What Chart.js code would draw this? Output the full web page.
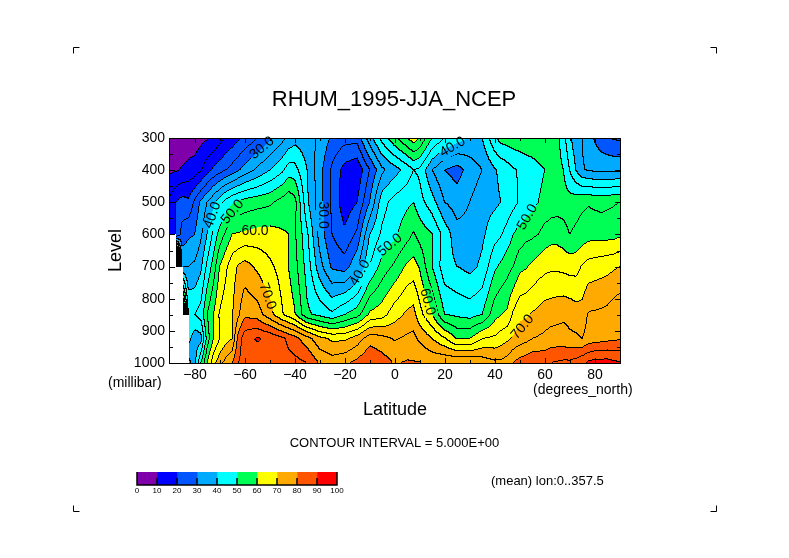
<!DOCTYPE html>
<html>
<head>
<meta charset="utf-8">
<title>RHUM_1995-JJA_NCEP</title>
<script src="https://cdn.jsdelivr.net/npm/chart.js@4/dist/chart.umd.min.js"></script>
<style>
  body { margin: 0; background: #fff; }
  #wrap { position: relative; width: 789px; height: 558px; overflow: hidden; }
  canvas { position: absolute; display: block; }
</style>
</head>
<body>
<div id="wrap">
  <canvas id="myChart" width="789" height="558" style="left:0;top:0"></canvas>
  <canvas id="barChart" width="240" height="40" style="left:120px;top:465px"></canvas>
</div>
<script>
// relative humidity, one list per pressure level
const latitudes = [-90,-87.5,-85,-82.5,-80,-77.5,-75,-72.5,-70,-67.5,-65,-62.5,-60,
  -55,-50,-45,-42.5,-40,-35,-30,-25,-20,-15,-10,-5,
  0,5,7.5,10,15,20,25,30,35,40,
  42.5,45,47.5,50,52.5,55,57.5,60,62.5,65,67.5,70,72.5,75,77.5,80,82.5,85,87.5,90];
const levels = [300,400,500,600,700,850,925,1000];
const latTicks = [-80,-60,-40,-20,0,20,40,60,80];

const rhum300 = [5,6,6.5,7,7.5,8.5,9.5,10.5,13,15.5,17,19,21,
  25,29,33.5,36,38,37,34,29,27,27,38,47,
  54,60,63,60,50,45,42,39.5,40,49,
  52,52.5,53,53.5,54,54,54,53.5,52.5,51.5,47,41,37,35,32,29.5,27,25.5,24.5,24];
const rhum400 = [9,9.5,10.5,11.5,12,14.5,18,21,23,25,27,29.5,32,
  36,40,44,47.5,47,40,32,24,18,16,25,34,
  38,42,45,44,35,30,28,32,35,39.5,
  41,42.7,44.5,45.5,46.6,47.5,49,50,51.5,52,50,45,40,35.5,34.5,34,34,34,34,34];
const rhum500 = [16,20,22,21,26,31,35,39,43,47,49.5,51,52,
  53,54,57,58.5,57,41,32,24,17,20,30,43,
  47,49,50,47,42,35,32.5,35,38,39,
  40,41.5,43.5,45.5,47,48.5,50,51,52,52.5,52.5,52,53,54,54.5,54,53.5,54,54.5,55];
const rhum600 = [16,20,27,29,30,34,40,46,52,56,60,60.5,61,
  62,62,60.5,60,56,46,33,25,21,26,40,46,
  49,53,55.5,53,50,43,37,37,39,43,
  44.5,47,50,52,53.5,54,55,57,58,58,57,55,56,57,58,58,58,58,58,59];
const rhum700 = [null,95,35,35,36,39,46,52,60,64,68,70.5,72,
  69,66,63,60,57,48,37,29,27.5,34,45,52,
  56,61,62,59.5,50,42,40,38.5,41,49,
  51,53,55,58.5,59.5,61,62.5,63.5,64,64,63.5,63,63,65.5,67,67.5,68,68.5,69.2,70];
const rhum850 = [null,null,78,45,45,47,55,60,65.5,68,69.5,74,79,
  77.5,72,65.5,63,60.5,51,48.5,46,50,53,61,63,
  68,71,72,67,60,50,49,48,50,58,
  60,61,66,69,69.5,70.5,71.5,72.6,73,73.5,74,73.5,72.5,72,75.5,75.7,76,76.5,78,79];
const rhum925 = [null,null,null,42,37,38,52,60,65,68,70,82,88,
  90.5,89,86,84,82,77,71.5,69,69,72.5,78,76.5,
  74.5,76,76.5,74,70,65.5,59.5,60,65,66,
  67.5,69,71,72.5,73.5,75,75.5,76,77,77,77,76,75.8,75,77,77.5,78,78.5,79,79.5];
const rhum1000 = [null,null,null,33,38,50,60,68,73,77,80,85,87,
  87,87,87,86.5,86.5,85,79.5,77.5,79,81.5,84.8,82.5,
  79.5,80.5,80.3,80.2,79,79.5,80,79.5,78,76,
  76,77.5,80.3,82,83,84,84,84,85,85.5,86,86,87,89,91,92,92,92,91,90.5];
const rhumRows = [rhum300,rhum400,rhum500,rhum600,rhum700,rhum850,rhum925,rhum1000];

const bandEdges = [0,10,20,30,40,50,60,70,80,90,100];
const bandColors = ['#7F00AA','#0000FF','#0055FF','#00AAFF','#00FFFF','#00FF55','#FFFF00','#FFAA00','#FF5500','#FF0000'];
const contourStep = 5;

const fontName = '"Liberation Sans", Arial, sans-serif';

// contour labels sitting on their lines
const contourLabels = [
  {text:'30.0', lat:-53.2, lev:331, rot:-40},
  {text:'40.0', lat:-73, lev:540, rot:-70},
  {text:'50.0', lat:-65, lev:530, rot:-50},
  {text:'60.0', lat:-56, lev:589, rot:0},
  {text:'70.0', lat:-51, lev:792, rot:70},
  {text:'30.0', lat:-29, lev:540, rot:90},
  {text:'40.0', lat:-14, lev:720, rot:-60},
  {text:'50.0', lat:-2, lev:633, rot:-40},
  {text:'40.0', lat:23, lev:328, rot:-30},
  {text:'50.0', lat:53, lev:546, rot:-60},
  {text:'60.0', lat:13, lev:810, rot:75},
  {text:'70.0', lat:51, lev:888, rot:-50}
];

function bracket(list, v) {
  let i = 0;
  while (i < list.length - 2 && list[i + 1] < v) i++;
  return i;
}

function hexToRgb(hex) {
  return [parseInt(hex.slice(1,3),16), parseInt(hex.slice(3,5),16), parseInt(hex.slice(5,7),16)];
}

// filled contours, one device pixel at a time so the edges stay hard like the original
const contourFill = {
  id: 'contourFill',
  beforeDraw(chart) {
    const ctx = chart.ctx, area = chart.chartArea;
    const xs = chart.scales.x, ys = chart.scales.y;
    const w = Math.round(area.right - area.left), h = Math.round(area.bottom - area.top);
    const field = new Float32Array(w * h);
    const rgb = bandColors.map(hexToRgb);
    for (let py = 0; py < h; py++) {
      const lev = ys.getValueForPixel(area.top + py + 0.5);
      const j = bracket(levels, lev);
      const t = (lev - levels[j]) / (levels[j + 1] - levels[j]);
      for (let px = 0; px < w; px++) {
        const lat = xs.getValueForPixel(area.left + px + 0.5);
        const i = bracket(latitudes, lat);
        const s = (lat - latitudes[i]) / (latitudes[i + 1] - latitudes[i]);
        const a = rhumRows[j][i], b = rhumRows[j][i + 1], c = rhumRows[j + 1][i], d = rhumRows[j + 1][i + 1];
        if (a === null || b === null || c === null || d === null) { field[py * w + px] = NaN; continue; }
        field[py * w + px] = (a * (1 - s) + b * s) * (1 - t) + (c * (1 - s) + d * s) * t;
      }
    }
    const marks = contourLabels.map(m => ({
      x: xs.getPixelForValue(m.lat) - area.left,
      y: ys.getPixelForValue(m.lev) - area.top,
      cos: Math.cos(m.rot * Math.PI / 180),
      sin: Math.sin(m.rot * Math.PI / 180)
    }));
    const inLabel = (px, py) => marks.some(m => {
      const dx = px - m.x, dy = py - m.y;
      return Math.abs(dx * m.cos + dy * m.sin) < 15 && Math.abs(dy * m.cos - dx * m.sin) < 7;
    });
    const img = ctx.createImageData(w, h);
    for (let py = 0; py < h; py++) {
      for (let px = 0; px < w; px++) {
        const v = field[py * w + px];
        let col = [255, 255, 255];
        if (!isNaN(v)) {
          col = rgb[Math.max(0, Math.min(9, Math.floor(v / 10)))];
          const k = Math.floor(v / contourStep);
          const right = px + 1 < w ? field[py * w + px + 1] : NaN;
          const below = py + 1 < h ? field[(py + 1) * w + px] : NaN;
          const crossed = (!isNaN(right) && Math.floor(right / contourStep) !== k) ||
                          (!isNaN(below) && Math.floor(below / contourStep) !== k);
          if (crossed && !inLabel(px, py)) col = [0, 0, 0];
        }
        const o = (py * w + px) * 4;
        img.data[o] = col[0]; img.data[o + 1] = col[1]; img.data[o + 2] = col[2]; img.data[o + 3] = 255;
      }
    }
    ctx.putImageData(img, area.left, area.top);
  },
  afterDraw(chart) {
    const ctx = chart.ctx, area = chart.chartArea;
    const xs = chart.scales.x, ys = chart.scales.y;
    ctx.save();
    ctx.strokeStyle = '#000';
    ctx.lineWidth = 1;
    ctx.strokeRect(area.left - 0.5, area.top + 0.5, area.right - area.left + 1, area.bottom - area.top);
    // inward ticks on all four sides
    ctx.beginPath();
    for (let lat = -80; lat <= 80; lat += 10) {
      const x = Math.round(xs.getPixelForValue(lat)) + 0.5, len = lat % 20 === 0 ? 5 : 3;
      ctx.moveTo(x, area.top); ctx.lineTo(x, area.top + len);
      ctx.moveTo(x, area.bottom); ctx.lineTo(x, area.bottom - len);
    }
    for (let lev = 350; lev < 1000; lev += 50) {
      const y = Math.round(ys.getPixelForValue(lev)) + 0.5, len = lev % 100 === 0 ? 5 : 3;
      ctx.moveTo(area.left, y); ctx.lineTo(area.left + len, y);
      ctx.moveTo(area.right, y); ctx.lineTo(area.right - len, y);
    }
    // crop marks
    [[73,47,1,1],[716,47,-1,1],[73,511,1,-1],[716,511,-1,-1]].forEach(c => {
      ctx.moveTo(c[0] + 0.5 + 6 * c[2], c[1] + 0.5);
      ctx.lineTo(c[0] + 0.5, c[1] + 0.5);
      ctx.lineTo(c[0] + 0.5, c[1] + 0.5 + 6 * c[3]);
    });
    ctx.stroke();

    ctx.fillStyle = '#000';
    ctx.textBaseline = 'middle';
    ctx.textAlign = 'center';
    contourLabels.forEach(m => {
      ctx.save();
      ctx.translate(xs.getPixelForValue(m.lat), ys.getPixelForValue(m.lev));
      ctx.rotate(m.rot * Math.PI / 180);
      ctx.font = '14px ' + fontName;
      ctx.fillText(m.text, 0, 0);
      ctx.restore();
    });
    ctx.font = '22px ' + fontName;
    ctx.fillText('RHUM_1995-JJA_NCEP', 394, 100);
    ctx.font = '13px ' + fontName;
    ctx.fillText('CONTOUR INTERVAL = 5.000E+00', 394.5, 443);
    ctx.textAlign = 'left';
    ctx.fillText('(mean) lon:0..357.5', 491, 481);
    ctx.font = '14px ' + fontName;
    ctx.fillText('(millibar)', 108, 383);
    ctx.fillText('(degrees_north)', 533, 390);
    ctx.restore();
  }
};

var myChart = new Chart(document.getElementById('myChart'), {
  type: 'scatter',
  data: {
    datasets: levels.map((lev, j) => ({
      label: lev + ' mb',
      data: latitudes.map((lat, i) => ({x: lat, y: lev, rhum: rhumRows[j][i]})),
      pointRadius: 0,
      showLine: false
    }))
  },
  options: {
    responsive: false,
    animation: false,
    devicePixelRatio: 1,
    layout: { padding: {left: 105, right: 169, top: 138, bottom: 137} },
    plugins: { legend: {display: false}, tooltip: {enabled: false} },
    scales: {
      x: {
        type: 'linear', min: -90, max: 90,
        afterFit(scale) { scale.height = 58; },
        afterBuildTicks(scale) { scale.ticks = latTicks.map(v => ({value: v})); },
        grid: {display: false, drawTicks: false},
        border: {display: false},
        ticks: {
          padding: 4, maxRotation: 0, color: '#000',
          font: {family: fontName, size: 14},
          callback: v => String(v).replace('-', '\u2212')
        },
        title: {display: true, text: 'Latitude', color: '#000', padding: {top: 0, bottom: 0}, font: {family: fontName, size: 18}}
      },
      y: {
        type: 'linear', reverse: true, min: 300, max: 1000,
        afterFit(scale) { scale.width = 65; },
        grid: {display: false, drawTicks: false},
        border: {display: false},
        ticks: {
          stepSize: 100, padding: 5, color: '#000', font: {family: fontName, size: 14},
          callback: v => String(v)
        },
        title: {display: true, text: 'Level', color: '#000', padding: {top: 0, bottom: 0}, font: {family: fontName, size: 18}}
      }
    }
  },
  plugins: [contourFill]
});

// colour key underneath
const keyTicks = {
  id: 'keyTicks',
  afterDraw(chart) {
    const ctx = chart.ctx, area = chart.chartArea, xs = chart.scales.x;
    ctx.save();
    ctx.strokeStyle = '#000';
    ctx.lineWidth = 1.5;
    ctx.beginPath();
    ctx.moveTo(area.left, area.top); ctx.lineTo(area.left, area.bottom);
    ctx.lineTo(area.right, area.bottom); ctx.lineTo(area.right, area.top);
    bandEdges.slice(1, -1).forEach(v => {
      const x = xs.getPixelForValue(v);
      ctx.moveTo(x, area.top + 6); ctx.lineTo(x, area.bottom);
    });
    ctx.stroke();
    ctx.restore();
  }
};

var barChart = new Chart(document.getElementById('barChart'), {
  type: 'bar',
  data: {
    labels: ['RHUM'],
    datasets: bandColors.map((c, i) => ({
      data: [[bandEdges[i], bandEdges[i + 1]]],
      backgroundColor: c,
      barPercentage: 1,
      categoryPercentage: 1,
      grouped: false
    }))
  },
  options: {
    indexAxis: 'y',
    responsive: false,
    animation: false,
    devicePixelRatio: 1,
    layout: { padding: {left: 17, right: 23, top: 7, bottom: 0} },
    plugins: { legend: {display: false}, tooltip: {enabled: false} },
    scales: {
      x: {
        type: 'linear', min: 0, max: 100,
        afterFit(scale) { scale.height = 20; },
        grid: {display: false, drawTicks: false},
        border: {display: false},
        ticks: {stepSize: 10, padding: 1, maxRotation: 0, autoSkip: false, color: '#000', font: {family: fontName, size: 8}}
      },
      y: { display: false }
    }
  },
  plugins: [keyTicks]
});
</script>
</body>
</html>
